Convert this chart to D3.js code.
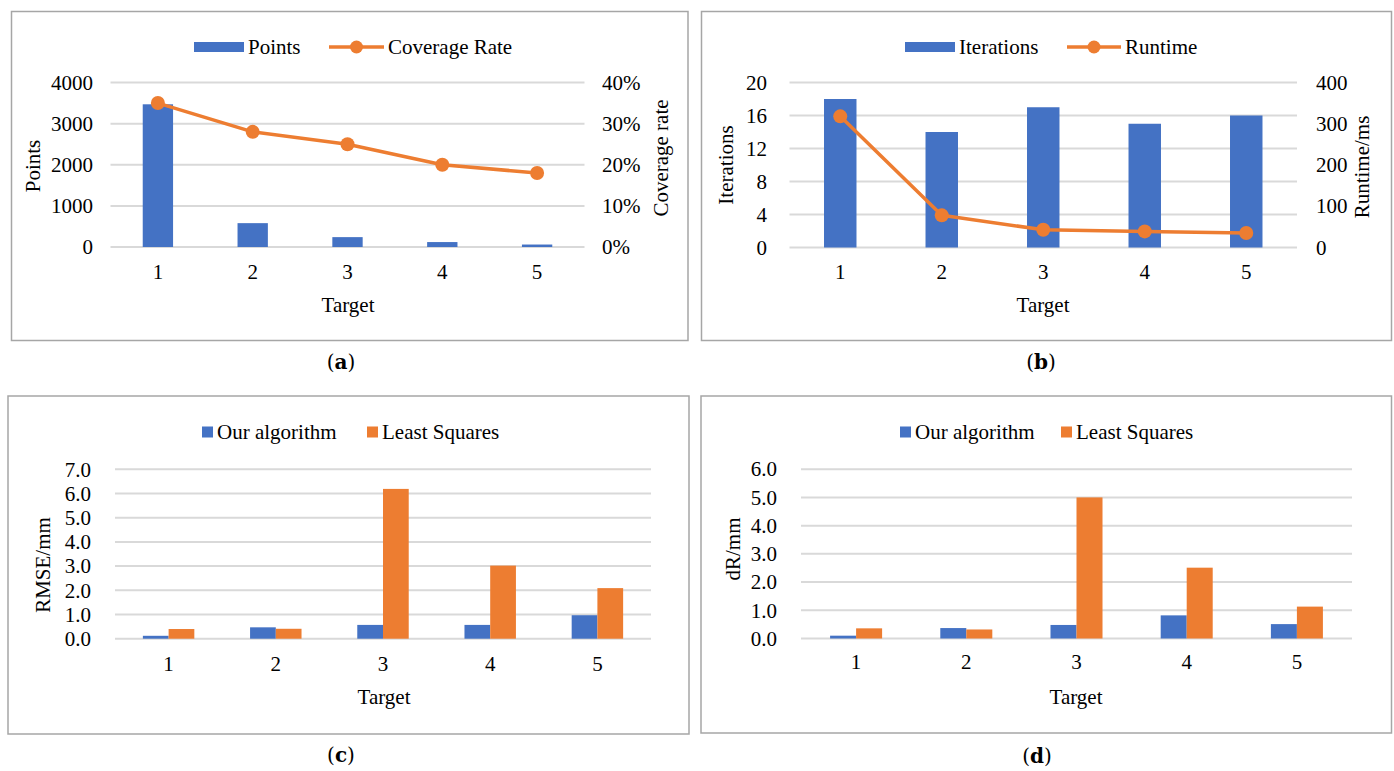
<!DOCTYPE html>
<html>
<head>
<meta charset="utf-8">
<script src="https://cdn.jsdelivr.net/npm/d3@7"></script>
<style>
  html, body { margin: 0; padding: 0; background: #fff; }
  svg { display: block; }
  text { font-family: "Liberation Serif", "Times New Roman", serif; fill: #000; }
</style>
</head>
<body>
<svg id="chart" width="1394" height="771"></svg>
<script>
// ---------- data ----------
const targets = ["1", "2", "3", "4", "5"];

const pointsVals = [3470, 580, 240, 120, 60];
const coverageVals = [0.35, 0.28, 0.25, 0.20, 0.18];
const pointsTicks = [0, 1000, 2000, 3000, 4000];
const coverageTicks = [0, 0.1, 0.2, 0.3, 0.4];

const iterVals = [18, 14, 17, 15, 16];
const runtimeVals = [318, 78, 43, 39, 35];
const iterTicks = [0, 4, 8, 12, 16, 20];
const runtimeTicks = [0, 100, 200, 300, 400];

const rmseOurs = [0.12, 0.47, 0.57, 0.57, 0.97];
const rmseLS = [0.40, 0.41, 6.19, 3.02, 2.09];
const rmseTicks = [0, 1, 2, 3, 4, 5, 6, 7];

const drOurs = [0.10, 0.37, 0.48, 0.82, 0.51];
const drLS = [0.36, 0.32, 5.00, 2.51, 1.13];
const drTicks = [0, 1, 2, 3, 4, 5, 6];

// ---------- styles ----------
const BLUE = "#4472c4", ORANGE = "#ed7d31", GRID = "#d9d9d9", BORDER = "#a6a6a6";
const FS = 21;

const svg = d3.select("#chart");

function frame(x0, y0, x1, y1) {
  svg.append("rect").attr("x", x0).attr("y", y0).attr("width", x1 - x0).attr("height", y1 - y0)
    .attr("fill", "none").attr("stroke", BORDER).attr("stroke-width", 1.5);
}

function grid(g, y, ticks, x0, x1) {
  g.append("g").selectAll("line").data(ticks).join("line")
    .attr("x1", x0).attr("x2", x1)
    .attr("y1", d => y(d)).attr("y2", d => y(d))
    .attr("stroke", GRID).attr("stroke-width", 2);
}

function styleAxis(sel) {
  sel.select(".domain").remove();
  sel.selectAll("text").style("font-family", '"Liberation Serif", serif').style("font-size", FS + "px").attr("fill", "#000");
}

function leftAxis(g, y, ticks, x0, labelRight, fmt) {
  g.append("g").attr("transform", `translate(${x0},0)`)
    .call(d3.axisLeft(y).tickValues(ticks).tickSize(0).tickPadding(x0 - labelRight).tickFormat(fmt))
    .call(styleAxis);
}
function rightAxis(g, y, ticks, x1, labelLeft, fmt) {
  g.append("g").attr("transform", `translate(${x1},0)`)
    .call(d3.axisRight(y).tickValues(ticks).tickSize(0).tickPadding(labelLeft - x1).tickFormat(fmt))
    .call(styleAxis);
}
function bottomAxis(g, x, yBase, pad) {
  g.append("g").attr("transform", `translate(0,${yBase})`)
    .call(d3.axisBottom(x).tickSize(0).tickPadding(pad))
    .call(styleAxis);
}
function label(text, x, y, rotate) {
  const t = svg.append("text").attr("x", x).attr("y", y).attr("text-anchor", "middle")
    .attr("dy", "0.35em").style("font-size", FS + "px").text(text);
  if (rotate) t.attr("transform", `rotate(-90,${x},${y})`);
  return t;
}
function caption(letter, x, y) {
  const t = svg.append("text").attr("x", x).attr("y", y).attr("text-anchor", "middle")
    .attr("dy", "0.35em").style("font-family", '"DejaVu Serif", serif').style("font-size", "20px");
  t.append("tspan").text("(");
  t.append("tspan").style("font-weight", "bold").text(letter);
  t.append("tspan").text(")");
}

function lineLegend(xRect, yc, name1, xLine0, xLine1, name2) {
  svg.append("rect").attr("x", xRect).attr("y", yc - 5).attr("width", 50).attr("height", 10).attr("fill", BLUE);
  svg.append("text").attr("x", xRect + 54).attr("y", yc).attr("dy", "0.35em").style("font-size", FS + "px").text(name1);
  svg.append("line").attr("x1", xLine0).attr("x2", xLine1).attr("y1", yc).attr("y2", yc)
    .attr("stroke", ORANGE).attr("stroke-width", 3.5);
  svg.append("circle").attr("cx", (xLine0 + xLine1) / 2).attr("cy", yc).attr("r", 6.5).attr("fill", ORANGE);
  svg.append("text").attr("x", xLine1 + 4).attr("y", yc).attr("dy", "0.35em").style("font-size", FS + "px").text(name2);
}
function squareLegend(x1, yc, name1, x2, name2) {
  svg.append("rect").attr("x", x1).attr("y", yc - 5.5).attr("width", 11).attr("height", 11).attr("fill", BLUE);
  svg.append("text").attr("x", x1 + 15).attr("y", yc).attr("dy", "0.35em").style("font-size", FS + "px").text(name1);
  svg.append("rect").attr("x", x2).attr("y", yc - 5.5).attr("width", 11).attr("height", 11).attr("fill", ORANGE);
  svg.append("text").attr("x", x2 + 15).attr("y", yc).attr("dy", "0.35em").style("font-size", FS + "px").text(name2);
}

// ---------- combo panel (bar + line, dual axis) ----------
function comboPanel(cfg) {
  const g = svg.append("g");
  const x = d3.scaleBand().domain(targets).range([cfg.x0, cfg.x1]);
  const yL = d3.scaleLinear().domain(cfg.leftDomain).range([cfg.yBase, cfg.yTop]);
  const yR = d3.scaleLinear().domain(cfg.rightDomain).range([cfg.yBase, cfg.yTop]);
  grid(g, yL, cfg.leftTicks, cfg.x0, cfg.x1);
  const bw = x.bandwidth() * cfg.barFrac;
  g.append("g").selectAll("rect").data(cfg.bars).join("rect")
    .attr("x", (d, i) => x(targets[i]) + (x.bandwidth() - bw) / 2)
    .attr("y", d => yL(d))
    .attr("width", bw)
    .attr("height", d => yL(0) - yL(d))
    .attr("fill", BLUE);
  const cx = (d, i) => x(targets[i]) + x.bandwidth() / 2;
  const line = d3.line().x(cx).y(d => yR(d));
  g.append("path").datum(cfg.line).attr("d", line).attr("fill", "none")
    .attr("stroke", ORANGE).attr("stroke-width", 3.5).attr("stroke-linejoin", "round");
  g.append("g").selectAll("circle").data(cfg.line).join("circle")
    .attr("cx", cx).attr("cy", d => yR(d)).attr("r", 7).attr("fill", ORANGE);
  leftAxis(g, yL, cfg.leftTicks, cfg.x0, cfg.leftLabelRight, cfg.leftFmt);
  rightAxis(g, yR, cfg.rightTicks, cfg.x1, cfg.rightLabelLeft, cfg.rightFmt);
  bottomAxis(g, x, cfg.yBase, cfg.xPad);
}

// ---------- grouped bar panel ----------
function groupPanel(cfg) {
  const g = svg.append("g");
  const x = d3.scaleBand().domain(targets).range([cfg.x0, cfg.x1]);
  const y = d3.scaleLinear().domain(cfg.domain).range([cfg.yBase, cfg.yTop]);
  grid(g, y, cfg.ticks, cfg.x0, cfg.x1);
  const bw = x.bandwidth() * cfg.barFrac;
  const series = [{ vals: cfg.a, color: BLUE, off: -bw }, { vals: cfg.b, color: ORANGE, off: 0 }];
  series.forEach(s => {
    g.append("g").selectAll("rect").data(s.vals).join("rect")
      .attr("x", (d, i) => x(targets[i]) + x.bandwidth() / 2 + s.off)
      .attr("y", d => y(d))
      .attr("width", bw)
      .attr("height", d => y(0) - y(d))
      .attr("fill", s.color);
  });
  leftAxis(g, y, cfg.ticks, cfg.x0, cfg.labelRight, d3.format(".1f"));
  bottomAxis(g, x, cfg.yBase, cfg.xPad);
}

// ===== panel (a) =====
frame(11.5, 11.5, 688, 340.5);
comboPanel({
  x0: 110.5, x1: 584.5, yBase: 247, yTop: 82.5,
  leftDomain: [0, 4000], rightDomain: [0, 0.4],
  leftTicks: pointsTicks, rightTicks: coverageTicks,
  bars: pointsVals, line: coverageVals, barFrac: 0.32,
  leftLabelRight: 93, rightLabelLeft: 602,
  leftFmt: d3.format("d"), rightFmt: d3.format(".0%"), xPad: 17
});
lineLegend(194, 47, "Points", 329, 384, "Coverage Rate");
label("Points", 33, 166, true);
label("Coverage rate", 661, 158, true);
label("Target", 348, 305);
caption("a", 341, 362);

// ===== panel (b) =====
frame(701.5, 11.5, 1391.5, 340.5);
comboPanel({
  x0: 789.5, x1: 1297, yBase: 247.5, yTop: 82.5,
  leftDomain: [0, 20], rightDomain: [0, 400],
  leftTicks: iterTicks, rightTicks: runtimeTicks,
  bars: iterVals, line: runtimeVals, barFrac: 0.32,
  leftLabelRight: 767, rightLabelLeft: 1316,
  leftFmt: d3.format("d"), rightFmt: d3.format("d"), xPad: 17
});
lineLegend(905, 47, "Iterations", 1067, 1121, "Runtime");
label("Iterations", 726, 165, true);
label("Runtime/ms", 1362, 167, true);
label("Target", 1043, 305);
caption("b", 1041, 362);

// ===== panel (c) =====
frame(8, 396, 689, 734);
groupPanel({
  x0: 115, x1: 651, yBase: 638.7, yTop: 469.3,
  domain: [0, 7], ticks: rmseTicks, a: rmseOurs, b: rmseLS, barFrac: 0.24,
  labelRight: 91, xPad: 17.5
});
squareLegend(202, 432, "Our algorithm", 367, "Least Squares");
label("RMSE/mm", 43, 565, true);
label("Target", 384, 697);
caption("c", 341, 755);

// ===== panel (d) =====
frame(701, 396, 1391.5, 733);
groupPanel({
  x0: 801, x1: 1352, yBase: 638.5, yTop: 469.2,
  domain: [0, 6], ticks: drTicks, a: drOurs, b: drLS, barFrac: 0.236,
  labelRight: 777, xPad: 16
});
squareLegend(900, 432, "Our algorithm", 1061, "Least Squares");
label("dR/mm", 733, 549, true);
label("Target", 1076, 697);
caption("d", 1037, 756);
</script>
</body>
</html>
